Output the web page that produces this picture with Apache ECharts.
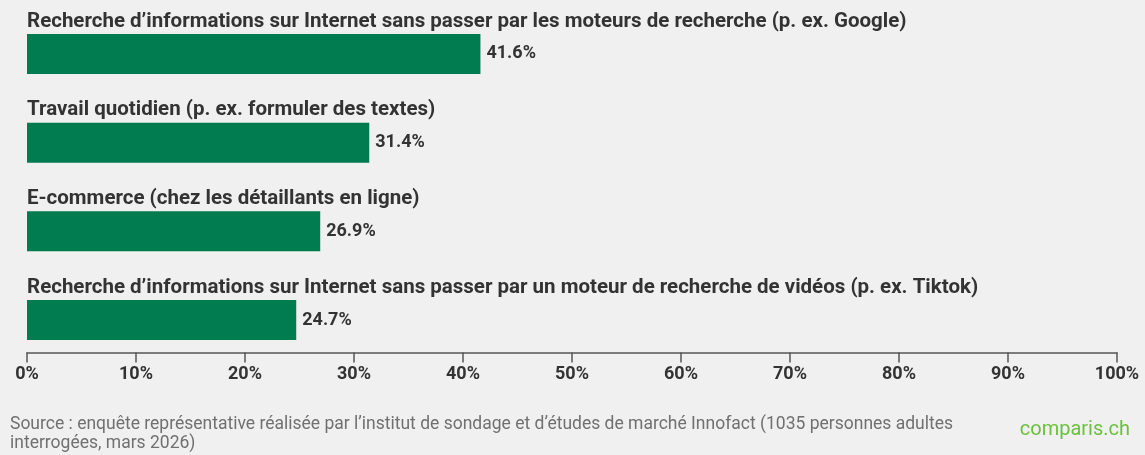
<!DOCTYPE html>
<html>
<head>
<meta charset="utf-8">
<script src="https://cdn.jsdelivr.net/npm/echarts@6/dist/echarts.min.js"></script>
<style>
  html, body { margin: 0; padding: 0; background: #f0f0f0; }
  #chart { width: 1145px; height: 455px; }
</style>
</head>
<body>
<div id="chart"></div>
<script>
// catégories (du haut vers le bas)
const categories = [
  'Recherche d\u2019informations sur Internet sans passer par les moteurs de recherche (p. ex. Google)',
  'Travail quotidien (p. ex. formuler des textes)',
  'E-commerce (chez les détaillants en ligne)',
  'Recherche d\u2019informations sur Internet sans passer par un moteur de recherche de vidéos (p. ex. Tiktok)'
];
// parts en %
const values = [41.6, 31.4, 26.9, 24.7];

const sourceText = 'Source : enquête représentative réalisée par l\u2019institut de sondage et d\u2019études de marché Innofact (1035 personnes adultes\ninterrogées, mars 2026)';

const chart = echarts.init(document.getElementById('chart'));

chart.setOption({
  animation: false,
  backgroundColor: '#f0f0f0',
  textStyle: { fontFamily: 'Roboto' },
  grid: {
    left: 27,
    right: 28,
    top: 9.6,
    height: 354.8
  },
  xAxis: {
    type: 'value',
    min: 0,
    max: 100,
    interval: 10,
    offset: -12,
    axisLine: { show: true, lineStyle: { color: '#555', width: 1.5 } },
    axisTick: { show: true, length: 10, lineStyle: { color: '#555', width: 1.5 } },
    splitLine: { show: false },
    axisLabel: {
      formatter: '{value}%',
      fontSize: 18,
      fontWeight: 'bold',
      color: '#333',
      margin: 13
    }
  },
  yAxis: {
    type: 'category',
    data: categories,
    inverse: true,
    axisLine: { show: false },
    axisTick: { show: false },
    axisLabel: {
      inside: true,
      align: 'left',
      verticalAlign: 'bottom',
      margin: 0,
      padding: [0, 0, 22, 0],
      fontSize: 20.5,
      fontWeight: 'bold',
      color: '#333'
    }
  },
  series: [{
    type: 'bar',
    data: values,
    barWidth: 40,
    itemStyle: { color: '#017b50' },
    label: {
      show: true,
      position: 'right',
      distance: 6,
      formatter: '{c}%',
      fontSize: 18,
      fontWeight: 'bold',
      color: '#333'
    }
  }],
  title: [{
    text: sourceText,
    left: 5,
    top: 410,
    textStyle: {
      fontSize: 17.5,
      fontWeight: 'normal',
      color: '#707070',
      lineHeight: 19,
      fontFamily: 'Roboto'
    }
  }, {
    text: 'comparis.ch',
    right: 10,
    top: 415,
    textStyle: {
      fontSize: 20,
      fontWeight: 'normal',
      color: '#6cc13c',
      fontFamily: 'Roboto'
    }
  }]
});
</script>
</body>
</html>
